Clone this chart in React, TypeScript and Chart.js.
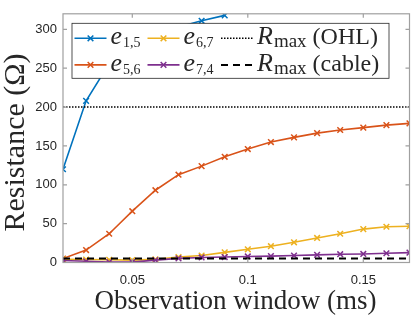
import React, { useEffect, useRef } from 'react';
import { Chart, registerables } from 'chart.js';

Chart.register(...registerables);

// ---- data ----
const xWindow = [0.02, 0.03, 0.04, 0.05, 0.06, 0.07, 0.08, 0.09, 0.1, 0.11, 0.12, 0.13, 0.14, 0.15, 0.16, 0.17];
const e15 = [120, 208, 256, 278, 293, 303, 311, 318];
const e56 = [5, 16, 37, 66, 93, 113, 124, 136, 146, 155, 161, 166.5, 170.5, 173.5, 176.8, 179];
const e67 = [4, 3.8, 3.5, 3, 4, 7, 9, 13, 17, 21, 26, 31.6, 37, 43, 46, 46.7];
const e74 = [2.5, 1.6, 0.5, 0.5, 3, 5.3, 6.5, 7, 7.8, 8.2, 9, 9.8, 10.7, 11, 11.9, 12.7];
const rMaxOHL = 200;
const rMaxCable = 5;
const xTicks = [0.05, 0.1, 0.15];
const yTicks = [0, 50, 100, 150, 200, 250, 300];
const xRange = [0.02, 0.17];
const yRange = [0, 320];

const seriesColors = ['#0072BD', '#D95319', '#EDB120', '#7E2F8E'];
const legendLabels = [
  { main: 'e', sub: '1,5', rest: '' },
  { main: 'e', sub: '5,6', rest: '' },
  { main: 'e', sub: '6,7', rest: '' },
  { main: 'e', sub: '7,4', rest: '' },
  { main: 'R', sub: 'max', rest: ' (OHL)' },
  { main: 'R', sub: 'max', rest: ' (cable)' },
];

const TEXT = '#262626';
const AXIS = '#a0a0a0';
const SERIF = '"Liberation Serif", "DejaVu Serif", serif';
const SANS = '"Liberation Sans", Arial, sans-serif';

const pts = (ys: number[]) => ys.map((y, i) => ({ x: xWindow[i], y }));

const axesPlugin = {
  id: 'matlabAxes',
  afterDatasetsDraw(chart: any) {
    const { ctx, chartArea: a, scales } = chart;
    const xs = scales.x;
    const ys = scales.y;
    ctx.save();
    ctx.strokeStyle = AXIS;
    ctx.lineWidth = 1.2;
    ctx.strokeRect(a.left, a.top, a.right - a.left, a.bottom - a.top);
    ctx.beginPath();
    const tl = 4;
    xs.ticks.forEach((t: any) => {
      const px = xs.getPixelForValue(t.value);
      ctx.moveTo(px, a.bottom);
      ctx.lineTo(px, a.bottom - tl);
      ctx.moveTo(px, a.top);
      ctx.lineTo(px, a.top + tl);
    });
    ys.ticks.forEach((t: any) => {
      const py = ys.getPixelForValue(t.value);
      ctx.moveTo(a.left, py);
      ctx.lineTo(a.left + tl, py);
      ctx.moveTo(a.right, py);
      ctx.lineTo(a.right - tl, py);
    });
    ctx.stroke();

    // axis titles
    ctx.fillStyle = TEXT;
    ctx.textAlign = 'center';
    ctx.textBaseline = 'alphabetic';
    ctx.font = `27px ${SERIF}`;
    ctx.fillText('Observation window (ms)', 235.5, 309);
    ctx.save();
    ctx.translate(24, 142.5);
    ctx.rotate(-Math.PI / 2);
    ctx.font = `30px ${SERIF}`;
    ctx.fillText('Resistance (Ω)', 0, 0);
    ctx.restore();
    ctx.restore();
  },
};

const legendPlugin = {
  id: 'matlabLegend',
  afterDraw(chart: any) {
    const { ctx, chartArea: a } = chart;
    const bx = a.left + 9;
    const by = a.top + 9.5;
    const bw = 317;
    const bh = 55;
    ctx.save();
    ctx.fillStyle = '#ffffff';
    ctx.fillRect(bx, by, bw, bh);
    ctx.strokeStyle = '#262626';
    ctx.lineWidth = 0.8;
    ctx.strokeRect(bx, by, bw, bh);

    const colStarts = [2.5, 75.5, 149];
    const rowCenters = [15, 41.6];
    const lineLen = 32;
    chart.data.datasets.forEach((ds: any, i: number) => {
      const col = Math.floor(i / 2);
      const row = i % 2;
      const x0 = bx + colStarts[col];
      const cy = by + rowCenters[row];
      ctx.save();
      ctx.strokeStyle = ds.borderColor;
      ctx.lineWidth = ds.borderWidth;
      ctx.setLineDash(ds.borderDash || []);
      ctx.beginPath();
      ctx.moveTo(x0, cy);
      ctx.lineTo(x0 + lineLen, cy);
      ctx.stroke();
      ctx.restore();
      if (ds.pointRadius > 0) {
        ctx.save();
        ctx.strokeStyle = ds.borderColor;
        ctx.lineWidth = ds.pointBorderWidth || 1.5;
        const r = ds.pointRadius * Math.SQRT1_2;
        const cx = x0 + lineLen / 2;
        ctx.beginPath();
        ctx.moveTo(cx - r, cy - r);
        ctx.lineTo(cx + r, cy + r);
        ctx.moveTo(cx - r, cy + r);
        ctx.lineTo(cx + r, cy - r);
        ctx.stroke();
        ctx.restore();
      }
      const lab = legendLabels[i];
      let tx = x0 + lineLen + 4;
      const base = cy + 6;
      ctx.fillStyle = TEXT;
      ctx.textAlign = 'left';
      ctx.textBaseline = 'alphabetic';
      ctx.font = `italic 26px ${SERIF}`;
      ctx.fillText(lab.main, tx, base);
      tx += ctx.measureText(lab.main).width + 1;
      const subIsWord = lab.sub === 'max';
      ctx.font = `${subIsWord ? 19 : 14}px ${SERIF}`;
      ctx.fillText(lab.sub, tx, base + 3);
      tx += ctx.measureText(lab.sub).width;
      if (lab.rest) {
        ctx.font = `24px ${SERIF}`;
        ctx.fillText(lab.rest, tx, base);
      }
    });
    ctx.restore();
  },
};

export default function App() {
  const canvasRef = useRef<HTMLCanvasElement | null>(null);

  useEffect(() => {
    const canvas = canvasRef.current;
    if (!canvas) return;
    const marker = {
      pointStyle: 'crossRot',
      pointRadius: 4,
      pointBorderWidth: 1.5,
      pointHoverRadius: 4,
      borderWidth: 1.6,
    };
    const chart = new Chart(canvas, {
      type: 'line',
      data: {
        datasets: [
          { label: 'e15', data: pts(e15), borderColor: seriesColors[0], backgroundColor: seriesColors[0], ...marker, order: 0 },
          { label: 'e56', data: pts(e56), borderColor: seriesColors[1], backgroundColor: seriesColors[1], ...marker, order: -1 },
          { label: 'e67', data: pts(e67), borderColor: seriesColors[2], backgroundColor: seriesColors[2], ...marker, order: -2 },
          { label: 'e74', data: pts(e74), borderColor: seriesColors[3], backgroundColor: seriesColors[3], ...marker, order: -3 },
          {
            label: 'Rmax OHL',
            data: [{ x: xRange[0], y: rMaxOHL }, { x: xRange[1], y: rMaxOHL }],
            borderColor: '#000000', borderWidth: 1.5, borderDash: [1.5, 1.5], pointRadius: 0, order: -4,
          },
          {
            label: 'Rmax cable',
            data: [{ x: xRange[0], y: rMaxCable }, { x: xRange[1], y: rMaxCable }],
            borderColor: '#000000', borderWidth: 2, borderDash: [7, 5], pointRadius: 0, order: -5,
          },
        ] as any,
      },
      options: {
        animation: false,
        responsive: true,
        maintainAspectRatio: false,
        layout: { padding: { top: 2, right: 4.4, left: 0, bottom: 0 } },
        plugins: { legend: { display: false }, tooltip: { enabled: false } },
        elements: { line: { tension: 0 } },
        scales: {
          x: {
            type: 'linear',
            min: xRange[0],
            max: xRange[1],
            afterBuildTicks: (s: any) => { s.ticks = xTicks.map((v) => ({ value: v })); },
            afterFit: (s: any) => { s.height = 55.5; },
            grid: { display: false, drawTicks: false },
            border: { display: false },
            ticks: {
              color: TEXT, font: { family: SANS, size: 13 }, padding: 10,
              maxRotation: 0, autoSkip: false,
              callback: (v: any) => String(v),
            },
          },
          y: {
            type: 'linear',
            min: yRange[0],
            max: yRange[1],
            afterBuildTicks: (s: any) => { s.ticks = yTicks.map((v) => ({ value: v })); },
            afterFit: (s: any) => { s.width = 63; },
            grid: { display: false, drawTicks: false },
            border: { display: false },
            ticks: {
              color: TEXT, font: { family: SANS, size: 13 }, padding: 6,
              autoSkip: false,
              callback: (v: any) => String(v),
            },
          },
        },
      } as any,
      plugins: [axesPlugin, legendPlugin],
    });
    return () => chart.destroy();
  }, []);

  return (
    <div style={{ position: 'fixed', left: 0, top: 0, width: 415, height: 318, background: '#fff' }}>
      <canvas ref={canvasRef} />
    </div>
  );
}
